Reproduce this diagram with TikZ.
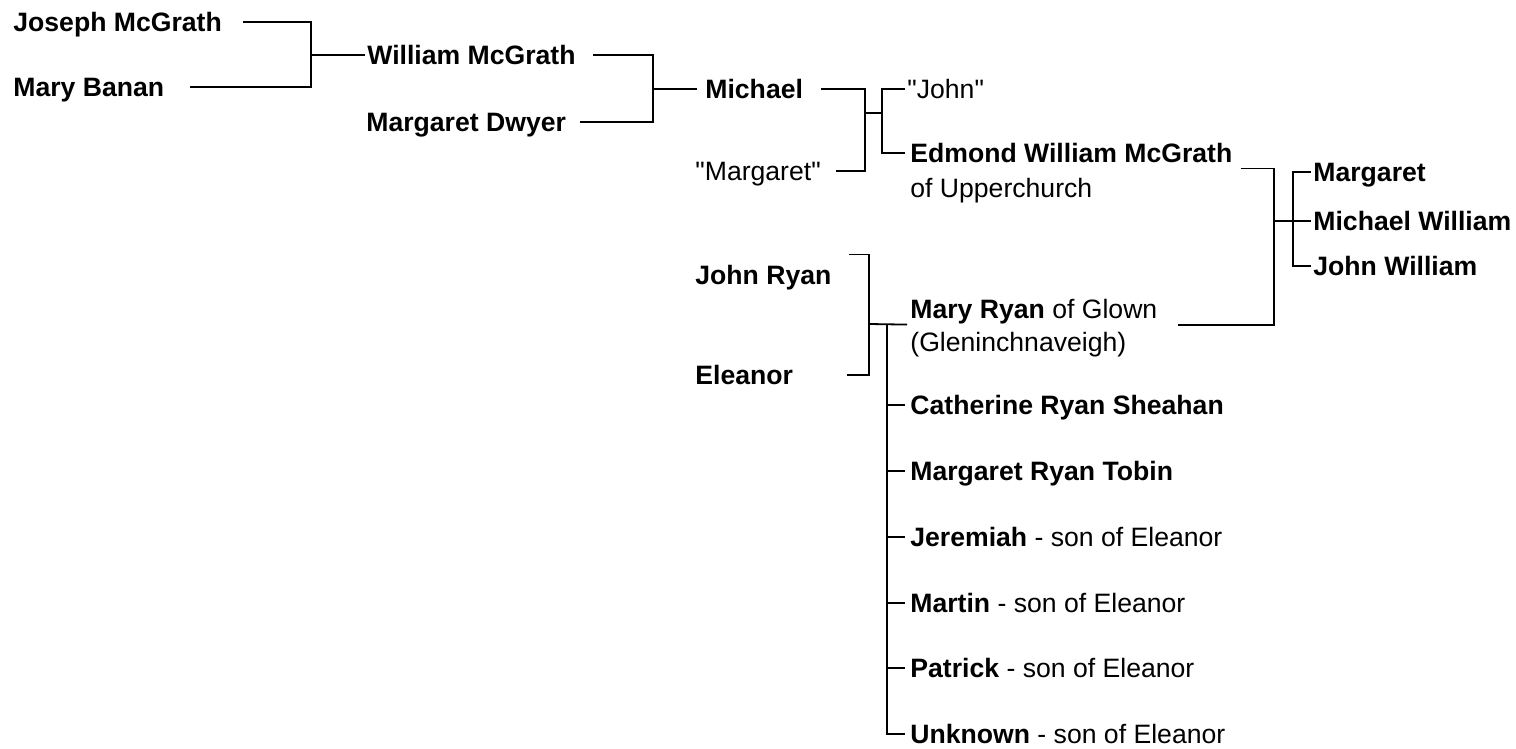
\documentclass[tikz,border=0pt]{standalone}
\usepackage{fontspec}
\setmainfont{Liberation Sans}[Ligatures=TeXOff]
\usepackage{tikz}
\usetikzlibrary{positioning}

\tikzset{
  person/.style={anchor=west, inner sep=0pt, text height=12.4pt, text depth=2.8pt,
    font=\fontsize{13.3}{16}\selectfont},
  link/.style={line width=0.9pt, black},
}

\begin{document}
\begin{tikzpicture}[x=0.5pt, y=-0.5pt]
\useasboundingbox (0,0) rectangle (1516,749);

% McGrath side
\node[person] (jmg) at (13,22) {\textbf{Joseph McGrath}};
\node[person] (mbn) at (13,87) {\textbf{Mary Banan}};
\node[person] (wmg) at (367,55) {\textbf{William McGrath}};
\node[person] (mdw) at (366,122) {\textbf{Margaret Dwyer}};
\node[person] (mic) at (705,89) {\textbf{Michael}};
\node[person] (qmg) at (695,171) {"Margaret"};
\node[person] (qjn) at (907,89) {"John"};
\node[person] (edm) at (910,153) {\textbf{Edmond William McGrath}};
\node[person, below right=1.8pt and 0pt of edm.south west] (edm2) {of Upperchurch};

% their children
\node[person] (mgt) at (1313,172) {\textbf{Margaret}};
\node[person] (mwm) at (1313,221) {\textbf{Michael William}};
\node[person] (jwm) at (1313,266) {\textbf{John William}};

% Ryan side
\node[person] (jry) at (695,275) {\textbf{John Ryan}};
\node[person] (eln) at (695,375) {\textbf{Eleanor}};
\node[person] (mry) at (910,309) {\textbf{Mary Ryan} of Glown};
\node[person, below right=0.8pt and 0pt of mry.south west] (mry2) {(Gleninchnaveigh)};
\node[person] (cat) at (910,405) {\textbf{Catherine Ryan Sheahan}};
\node[person] (mrt) at (910,471) {\textbf{Margaret Ryan Tobin}};
\node[person] (jer) at (910,537) {\textbf{Jeremiah} - son of Eleanor};
\node[person] (mar) at (910,603) {\textbf{Martin} - son of Eleanor};
\node[person] (pat) at (910,668) {\textbf{Patrick} - son of Eleanor};
\node[person] (unk) at (910,734) {\textbf{Unknown} - son of Eleanor};

% bracket joints
\coordinate (k1) at (311,55);
\coordinate (k2) at (653,89);
\coordinate (k3) at (865,113);
\coordinate (k3b) at (882,113);
\coordinate (k4) at (1274,221);
\coordinate (k4b) at (1293,221);
\coordinate (k5) at (869,324);
\coordinate (k5b) at (887,324);

% brackets
\draw[link] ([xshift=10.5pt]jmg.east) -| (k1) |- ([xshift=12.5pt]mbn.east);
\draw[link] (k1) -- ([xshift=-1pt]wmg.west);
\draw[link] ([xshift=8.5pt]wmg.east) -| (k2) |- ([xshift=7pt]mdw.east);
\draw[link] (k2) -- ([xshift=-4pt]mic.west);
\draw[link] ([xshift=8.7pt]mic.east) -| (k3) |- ([xshift=7.5pt]qmg.east);
\draw[link] (k3) -- (k3b);
\draw[link] ([xshift=-1pt]qjn.west) -| (k3b) |- ([xshift=-2.5pt]edm.west);
\draw[link] ([xshift=4pt]edm.south east) -| (k4) |- ([xshift=10pt]mry.south east);
\draw[link] (k4) -- ([xshift=-1pt]mwm.west);
\draw[link] ([xshift=-1pt]mgt.west) -| (k4b) |- ([xshift=-1pt]jwm.west);
\draw[link] ([xshift=8.5pt,yshift=2.5pt]jry.north east) -| (k5) |- ([xshift=26.7pt]eln.east);
\draw[link] (k5) -- ([xshift=-1.5pt]mry.south west);
\draw[link] (k5b) |- ([xshift=-2.5pt]unk.west);
\draw[link] (k5b |- cat.west) -- ([xshift=-2.5pt]cat.west);
\draw[link] (k5b |- mrt.west) -- ([xshift=-2.5pt]mrt.west);
\draw[link] (k5b |- jer.west) -- ([xshift=-2.5pt]jer.west);
\draw[link] (k5b |- mar.west) -- ([xshift=-2.5pt]mar.west);
\draw[link] (k5b |- pat.west) -- ([xshift=-2.5pt]pat.west);
\end{tikzpicture}
\end{document}
